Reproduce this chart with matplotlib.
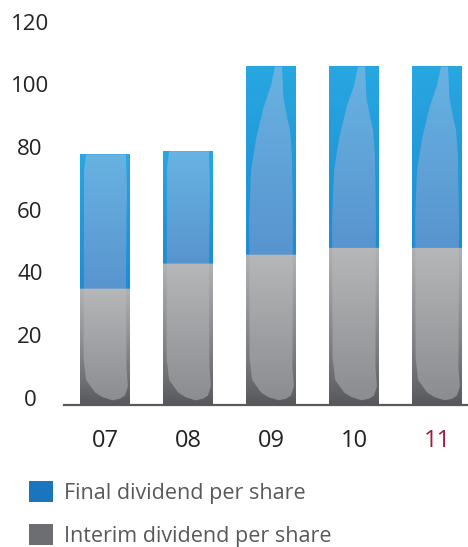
import matplotlib
matplotlib.use("Agg")
import matplotlib.pyplot as plt
import matplotlib.transforms as mtransforms
from matplotlib.patches import Patch, Polygon
from matplotlib.colors import to_rgb
import numpy as np

# data
years = ["07", "08", "09", "10", "11"]
interim = [37, 45, 48, 50, 50]
final = [43, 36, 60, 58, 58]
y_ticks = [0, 20, 40, 60, 80, 100, 120]

plt.rcParams["font.family"] = ["Open Sans", "DejaVu Sans"]

fig = plt.figure(figsize=(4.68, 5.47), dpi=100)
ax = fig.add_axes([64 / 468, 142 / 547, 1 - 64 / 468, 376 / 547])

width = 0.6


def mix(c1, c2, t):
    c1, c2 = np.array(to_rgb(c1)), np.array(to_rgb(c2))
    return c1 * (1 - t) + c2 * t


def column_image(lo, top, v, outer):
    # colour per row for a bar going from 0 to top, split at lo
    rows = []
    for y in v:
        if y < lo:
            t = y / lo
            if outer:
                rows.append(mix("#55565a", "#b0b1b3", t ** 0.8))
            else:
                rows.append(mix("#8a8b8e", "#b6b7b9", t))
        else:
            t = (y - lo) / (top - lo)
            if outer:
                rows.append(mix("#1d8dd0", "#28a7e1", t))
            else:
                rows.append(mix("#5894cf", "#68b3e2", t))
    return np.array(rows)[::-1, None, :]


for i in range(len(years)):
    lo = interim[i]
    top = interim[i] + final[i]
    x0, x1 = i - width / 2, i + width / 2
    v = np.linspace(0, top, 300)
    ax.imshow(column_image(lo, top, v, True), extent=(x0, x1, 0, top),
              aspect="auto", zorder=2, interpolation="bilinear")

    # lighter silhouette inside the bar
    w = x1 - x0
    if top > 100:
        pts = [(0.65, 1.5), (0.45, 2.5), (0.3, 4), (0.12, 8), (0.07, 15),
               (0.06, 60), (0.1, 75), (0.2, 85), (0.35, 95), (0.5, 102),
               (0.58, top), (0.72, top), (0.75, 98), (0.82, 92), (0.88, 88),
               (0.92, 80), (0.94, 60), (0.93, 12), (0.96, 6), (0.9, 3),
               (0.8, 2)]
    else:
        pts = [(0.65, 1.5), (0.45, 2.5), (0.3, 4), (0.12, 8), (0.07, 15),
               (0.08, top - 5), (0.12, top), (0.92, top), (0.94, top - 10),
               (0.92, 40), (0.93, 12), (0.96, 6), (0.9, 3), (0.8, 2)]
    poly = Polygon([(x0 + u * w, y) for u, y in pts], closed=True,
                   transform=ax.transData, facecolor="none", edgecolor="none")
    ax.add_patch(poly)
    inner = ax.imshow(column_image(lo, top, v, False), extent=(x0, x1, 0, top),
                      aspect="auto", zorder=3, interpolation="bilinear")
    inner.set_clip_path(poly)

ax.set_xlim(-0.494, 4.373)
ax.set_ylim(0, 120)
for s in ["left", "right", "top"]:
    ax.spines[s].set_visible(False)
ax.spines["bottom"].set_color("#58595b")
ax.spines["bottom"].set_linewidth(1.6)
ax.spines["bottom"].set_zorder(5)
ax.set_yticks([])
ax.set_xticks(range(len(years)))
ax.set_xticklabels(years, fontsize=17, color="#222222")
ax.tick_params(axis="x", length=0, pad=17)
ax.get_xticklabels()[-1].set_color("#a01c3c")

# y tick labels, centred in the left margin
lab_tr = mtransforms.blended_transform_factory(fig.transFigure, ax.transData)
lab_tr = lab_tr + mtransforms.ScaledTranslation(0, 5 / 100, fig.dpi_scale_trans)
for t in y_ticks:
    ax.text(30 / 468, t, str(t), transform=lab_tr, ha="center", va="center",
            fontsize=16, color="#222222", clip_on=False)

handles = [Patch(facecolor="#1a75be", edgecolor="none"),
           Patch(facecolor="#6d6e71", edgecolor="none")]
fig.legend(handles, ["Final dividend per share", "Interim dividend per share"],
           loc="upper left", bbox_to_anchor=(29 / 468, 1 - 481 / 547),
           frameon=False, fontsize=15.5, labelcolor="#58595b",
           handlelength=1.12, handleheight=1.12, handletextpad=0.5,
           labelspacing=0.95, borderpad=0, borderaxespad=0)

fig.savefig("out.png", dpi=100)
